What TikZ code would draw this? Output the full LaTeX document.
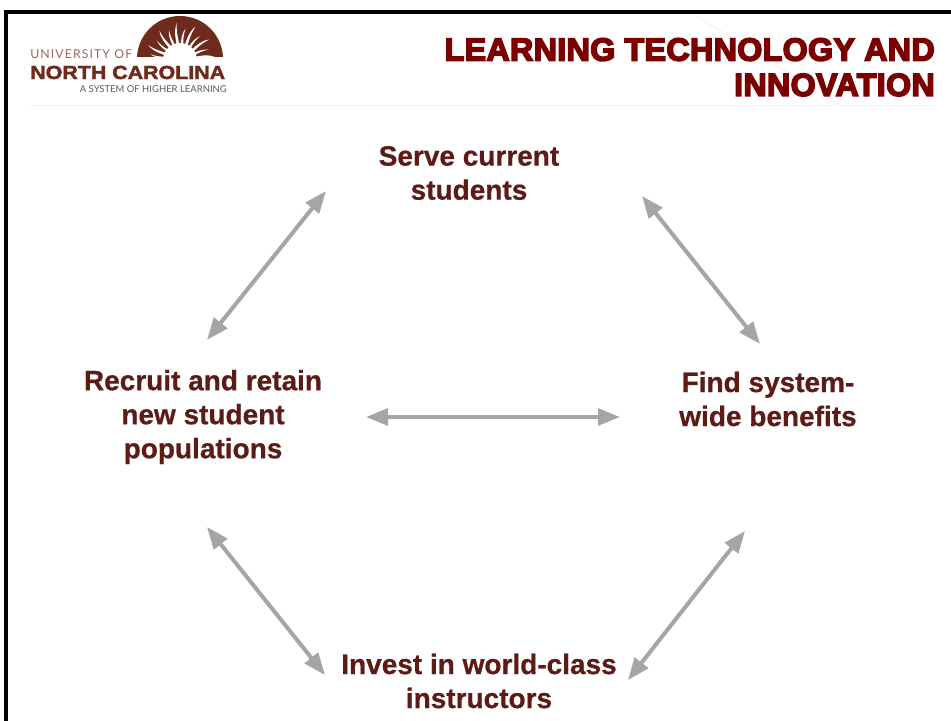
\documentclass[tikz,border=0pt]{standalone}
\usepackage{fontspec}
\setmainfont{Liberation Sans}
\newfontfamily\titlefont[FakeBold=5,FakeStretch=1.005,LetterSpace=1.2]{Liberation Sans Bold}
\newfontfamily\labelfont[FakeBold=0.6]{Liberation Sans Bold}
\newfontfamily\logofont{Lato}
\newfontfamily\logohvy[FakeBold=2,FakeStretch=1.13]{Liberation Sans Bold}
\usetikzlibrary{arrows.meta,calc}
\definecolor{lblue}{HTML}{5E1A14}
\definecolor{ttl}{HTML}{7B0000}
\definecolor{arr}{HTML}{A5A5A5}
\definecolor{sun}{HTML}{6E2A1C}
\tikzset{
 label text/.style={font=\labelfont\fontsize{21pt}{25.5pt}\selectfont,text=lblue,align=center,inner sep=0pt},
 title text/.style={font=\titlefont\fontsize{24pt}{26.5pt}\selectfont,text=ttl,align=right,inner sep=0pt},
 biarrow/.style={draw=arr,line width=3pt,{Triangle[length=16.5pt,width=12.5pt,fill=arr]}-{Triangle[length=16.5pt,width=12.5pt,fill=arr]}},
}
\begin{document}
\begin{tikzpicture}[x=0.75pt,y=-0.75pt]
\useasboundingbox (0,0) rectangle (951,721);
\fill[white] (0,0) rectangle (951,721);
% frame
\draw[black,line width=2.4pt] (6,721) -- (6,12) -- (951,12);
% faint marks
\draw[black!4,line width=1pt] (695,15) -- (840,105);
\draw[orange!12!white,line width=0.8pt] (28,105.5) -- (935,105.5);
% sun logo
\begin{scope}
\clip (130,10) rectangle (230,56.5);
\fill[sun] (180,59) circle[radius=43];
\foreach \a/\l in {8/35,23/30,38/36,53/31,68/37,83/32,98/37,113/32,128/36,143/30,158/35,172/30}{
  \fill[white] ($(180,60)+(-\a+7:13)$) .. controls ($(180,60)+(-\a+6:\l*0.5)$) and ($(180,60)+(-\a-1:\l*0.7)$) .. ($(180,60)+(-\a+3:\l)$) .. controls ($(180,60)+(-\a-7:\l*0.75)$) and ($(180,60)+(-\a-1:\l*0.5)$) .. ($(180,60)+(-\a-7:13)$) -- cycle;
}
\fill[white] (180,60) circle[radius=17];
\end{scope}
% logo text
\node[anchor=west,inner sep=0pt,font=\logofont\fontsize{9.2pt}{11pt}\selectfont,text=sun!70!white] (uni) at (30,54.5) {\addfontfeature{LetterSpace=9}UNIVERSITY OF};
\node[anchor=west,inner sep=0pt,font=\logohvy\fontsize{14.2pt}{16pt}\selectfont,text=sun] (nc) at (30,72.5) {NORTH CAROLINA};
\node[anchor=east,inner sep=0pt,font=\logofont\fontsize{7.1pt}{9pt}\selectfont,text=black!65] (sys) at (227,89.5) {A SYSTEM OF HIGHER LEARNING};
% title
\node[title text,anchor=north east] (title) at (935,38) {LEARNING TECHNOLOGY AND\\INNOVATION};
% labels
\node[label text] (serve) at (469,173) {Serve current\\students};
\node[label text] (recruit) at (203,417) {Recruit and retain\\new student\\populations};
\node[label text] (find) at (768,399) {Find system-\\wide benefits};
\node[label text] (invest) at (479,681) {Invest in world-class\\instructors};
% arrow ends
\coordinate (a1) at (326,191); \coordinate (a2) at (207,340);
\coordinate (b1) at (642,196); \coordinate (b2) at (760,344);
\coordinate (c1) at (366,417); \coordinate (c2) at (620,417);
\coordinate (d1) at (207,527); \coordinate (d2) at (325,675);
\coordinate (e1) at (745,531); \coordinate (e2) at (628,680);
\draw[biarrow] (a1) -- (a2);
\draw[biarrow] (b1) -- (b2);
\draw[biarrow] (c1) -- (c2);
\draw[biarrow] (d1) -- (d2);
\draw[biarrow] (e1) -- (e2);
\end{tikzpicture}
\end{document}
